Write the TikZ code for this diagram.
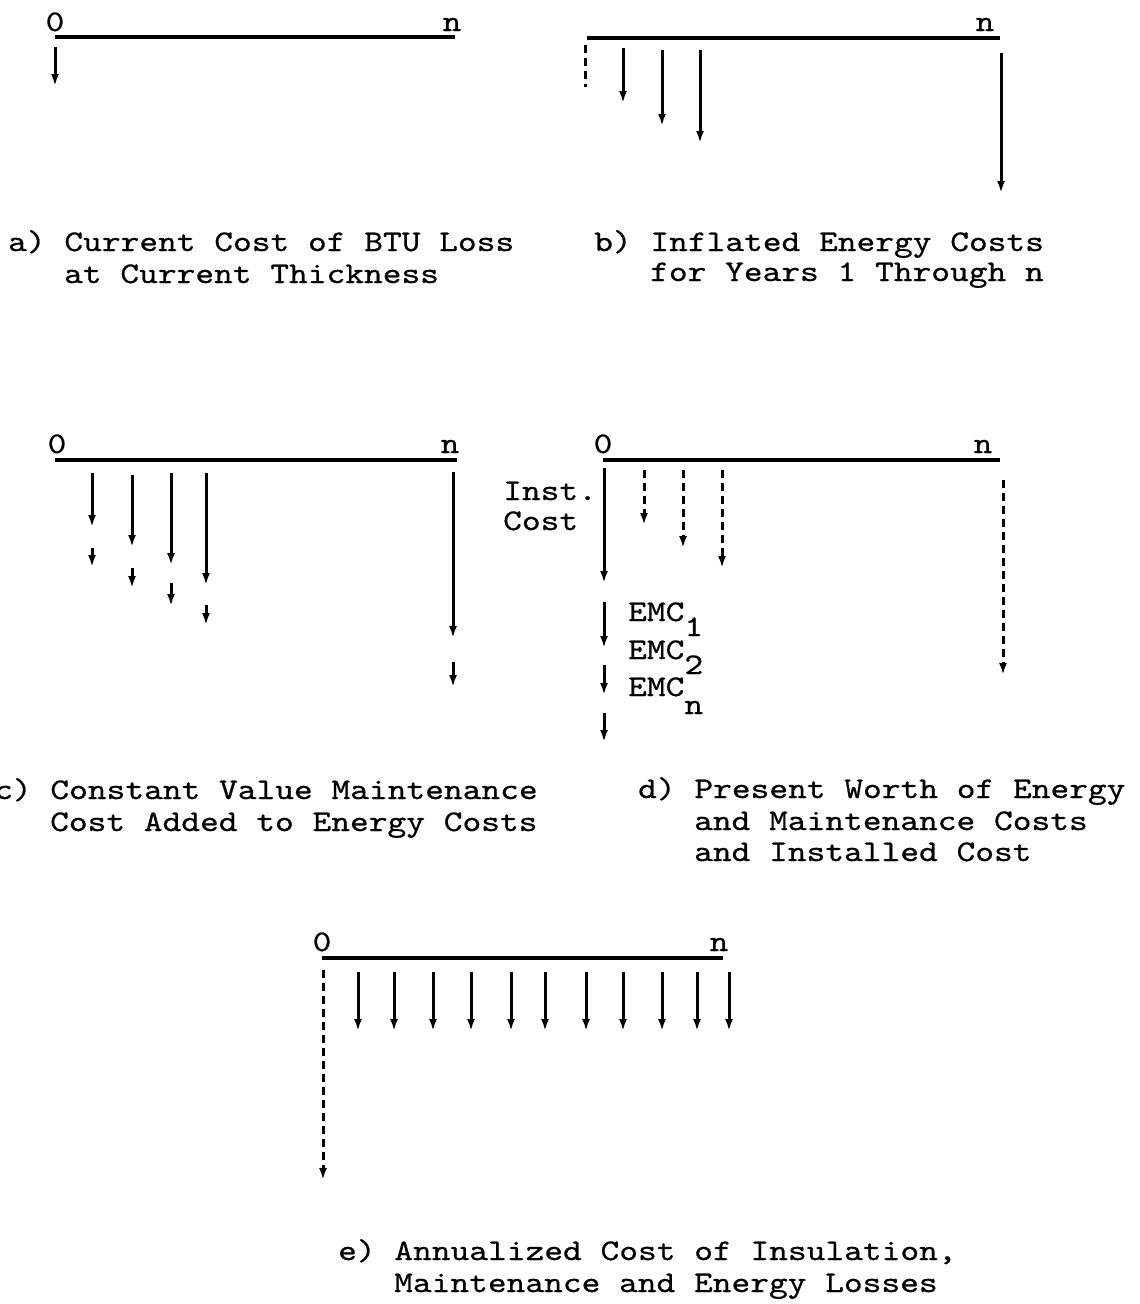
\documentclass[tikz,border=0pt]{standalone}
\usepackage{fontspec}
\newfontfamily\twfam[FakeStretch=1.19,FakeBold=0.6]{lmmono10-regular.otf}
\newcommand\twf{\twfam\fontsize{30}{32}\selectfont}
\usetikzlibrary{arrows.meta}
\begin{document}
\begin{tikzpicture}[x=1pt,y=-1pt,
  tl/.style={line width=4.5pt},
  arr/.style={line width=3pt,-{Latex[length=12pt,width=8pt]}},
  darr/.style={arr,dash pattern=on 8pt off 5pt},
  dln/.style={line width=3pt,dash pattern=on 8pt off 5pt},
  txt/.style={font=\twf,inner sep=0pt,anchor=base west},
  lab/.style={font=\twf,inner sep=0pt,anchor=base}]
\useasboundingbox (0,0) rectangle (1140,1304);
\fill[white] (0,0) rectangle (1140,1304);

% ---------- panel a ----------
\coordinate (a0) at (55,37); \coordinate (an) at (455,37);
\draw[tl] (a0) -- (an);
\node[lab] (a0l) at (55,31) {0};
\node[lab] (anl) at (452,31) {n};
\coordinate (aA) at (55,47); \coordinate (aB) at (55,86);
\draw[arr] (aA) -- (aB);
\node[txt] (acap1) at (8,251) {a) Current Cost of BTU Loss};
\node[txt] (acap2) at (64,283) {at Current Thickness};

% ---------- panel b ----------
\coordinate (b0) at (587,38); \coordinate (bn) at (1000,38);
\draw[tl] (b0) -- (bn);
\node[lab] (bnl) at (985,31) {n};
\coordinate (bd1) at (585,45); \coordinate (bd2) at (585,87);
\draw[dln] (bd1) -- (bd2);
\foreach \i/\x/\ya/\yb in {1/623/48/103, 2/662/50/126, 3/700/50/143, 4/1001/53/193}{
  \coordinate (bs\i) at (\x,\ya); \coordinate (bt\i) at (\x,\yb);
  \draw[arr] (bs\i) -- (bt\i);
}
\node[txt] (bcap1) at (594,251) {b) Inflated Energy Costs};
\node[txt] (bcap2) at (650,281) {for Years 1 Through n};

% ---------- panel c ----------
\coordinate (c0) at (55,460); \coordinate (cn) at (457,460);
\draw[tl] (c0) -- (cn);
\node[lab] (c0l) at (57,453) {0};
\node[lab] (cnl) at (450,453) {n};
\foreach \i/\x/\ya/\yb/\yc/\yd in {1/92/473/527/548/567, 2/132/475/547/568/588,
   3/171/473/565/583/606, 4/206/473/585/605/625, 5/453/472/638/662/687}{
  \coordinate (cs\i) at (\x,\ya); \coordinate (ct\i) at (\x,\yb);
  \coordinate (cu\i) at (\x,\yc); \coordinate (cv\i) at (\x,\yd);
  \draw[arr] (cs\i) -- (ct\i);
  \draw[arr] (cu\i) -- (cv\i);
}
\node[txt] (ccap1) at (-6,799) {c) Constant Value Maintenance};
\node[txt] (ccap2) at (50,831) {Cost Added to Energy Costs};

% ---------- panel d ----------
\coordinate (d0) at (603,460); \coordinate (dn) at (1000,460);
\draw[tl] (d0) -- (dn);
\node[lab] (d0l) at (603,453) {0};
\node[lab] (dnl) at (983,453) {n};
\coordinate (dI1) at (604,468); \coordinate (dI2) at (604,583);
\draw[arr] (dI1) -- (dI2);
\node[txt] (dinst) at (503,500) {Inst.};
\node[txt] (dcost) at (503,530) {Cost};
\foreach \i/\x/\ya/\yb in {1/644/470/525, 2/683/470/548, 3/722/470/568, 4/1003/480/675}{
  \coordinate (ds\i) at (\x,\ya); \coordinate (dt\i) at (\x,\yb);
  \draw[darr] (ds\i) -- (dt\i);
}
\foreach \i/\ya/\yb in {1/602/648, 2/665/695, 3/713/742}{
  \coordinate (es\i) at (604,\ya); \coordinate (et\i) at (604,\yb);
  \draw[arr] (es\i) -- (et\i);
}
\node[txt] (emc1) at (628,621) {EMC\raisebox{-15pt}{1}};
\node[txt] (emc2) at (628,659) {EMC\raisebox{-15pt}{2}};
\node[txt] (emcn) at (628,696) {EMC\raisebox{-18pt}{n}};
\node[txt] (dcap1) at (638,798) {d) Present Worth of Energy};
\node[txt] (dcap2) at (694,830) {and Maintenance Costs};
\node[txt] (dcap3) at (694,861) {and Installed Cost};

% ---------- panel e ----------
\coordinate (f0) at (322,958); \coordinate (fn) at (723,958);
\draw[tl] (f0) -- (fn);
\node[lab] (f0l) at (322,951) {0};
\node[lab] (fnl) at (719,951) {n};
\coordinate (fd1) at (323,970); \coordinate (fd2) at (323,1180);
\draw[darr] (fd1) -- (fd2);
\foreach \i/\x in {1/358,2/394,3/433,4/471,5/511,6/545,7/586,8/623,9/662,10/697,11/729}{
  \coordinate (fs\i) at (\x,972); \coordinate (ft\i) at (\x,1031);
  \draw[arr] (fs\i) -- (ft\i);
}
\node[txt] (fcap1) at (338,1260) {e) Annualized Cost of Insulation,};
\node[txt] (fcap2) at (394,1292) {Maintenance and Energy Losses};
\end{tikzpicture}
\end{document}
